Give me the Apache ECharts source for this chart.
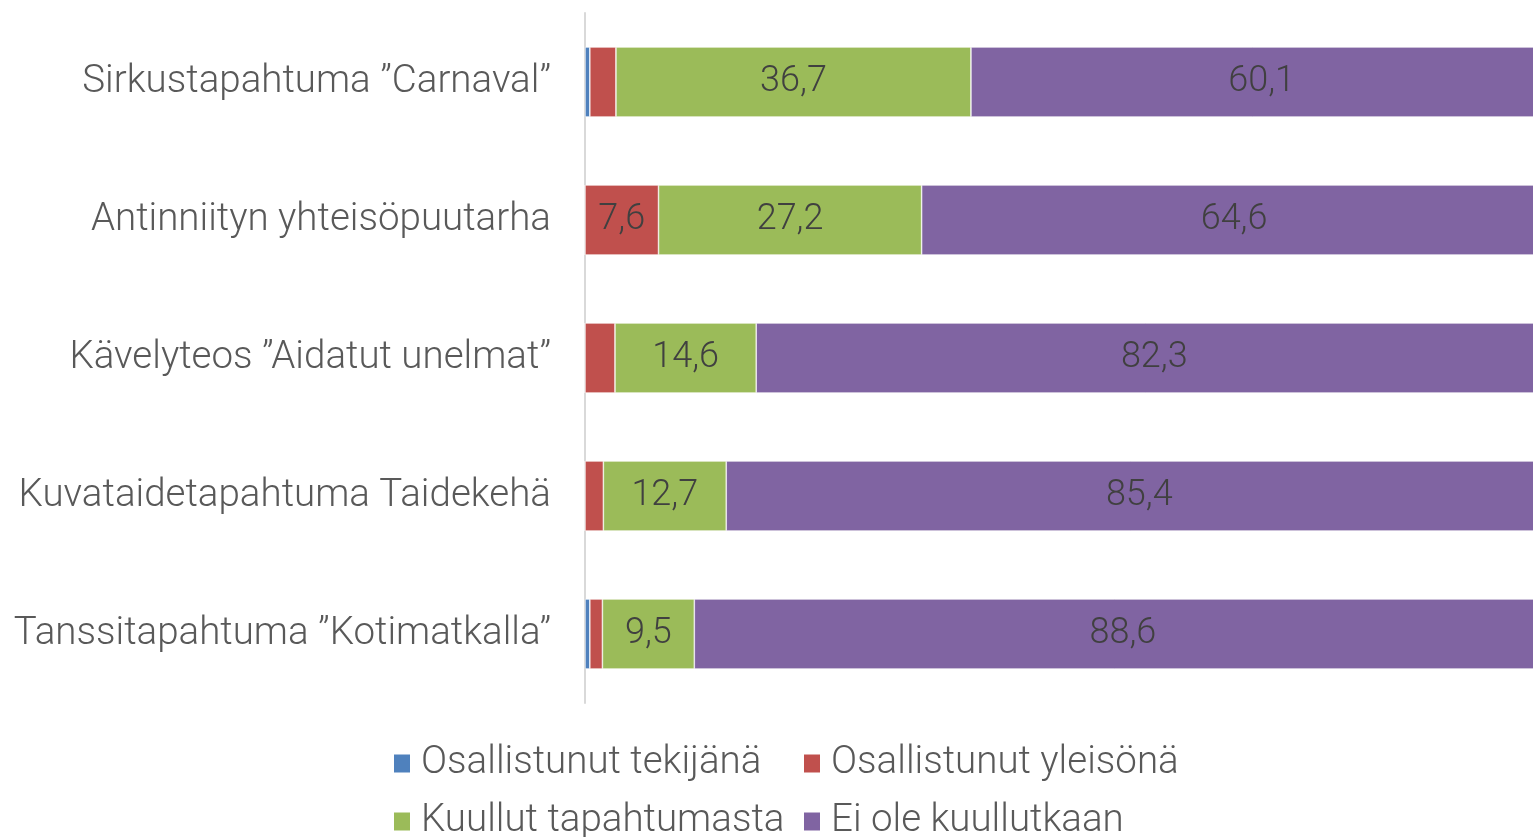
<!DOCTYPE html>
<html>
<head>
<meta charset="utf-8">
<script src="https://cdn.jsdelivr.net/npm/echarts@6/dist/echarts.min.js"></script>
<style>
  html, body { margin: 0; padding: 0; background: #fff; }
  #chart { width: 1533px; height: 837px; }
</style>
</head>
<body>
<div id="chart"></div>
<script>
// 100 % stacked bars: awareness / participation per event (%).
const categories = [
  'Tanssitapahtuma ”Kotimatkalla”',
  'Kuvataidetapahtuma Taidekehä',
  'Kävelyteos ”Aidatut unelmat”',
  'Antinniityn yhteisöpuutarha',
  'Sirkustapahtuma ”Carnaval”',
];
const seriesNames = ['Osallistunut tekijänä', 'Osallistunut yleisönä', 'Kuullut tapahtumasta', 'Ei ole kuullutkaan'];
const tekijana = [0.5, 0, 0, 0, 0.5];
const yleisona = [1.3, 1.9, 3.1, 7.6, 2.7];
const kuullut = [9.5, 12.7, 14.6, 27.2, 36.7];
const eiKuullut = [88.6, 85.4, 82.3, 64.6, 60.1];
// red segment is labelled only where it is wide enough (Antinniityn)
const yleisonaLabel = [false, false, false, true, false];

const COLORS = ['#4F81BD', '#C0504D', '#9BBB59', '#8064A2'];
const FONT = 'Roboto, "Open Sans", sans-serif';

const fmt = (v) => String(v).replace('.', ',');

// the picture is cropped on the right: the 100 % end sits ~19px past the edge,
// so the axis stops at 98 and bars are not clipped.
function barSeries(i, data, showLabel) {
  return {
    name: seriesNames[i], type: 'bar', stack: 'all', barWidth: 70, clip: false,
    itemStyle: { color: COLORS[i], borderColor: '#fff', borderWidth: 0.6 },
    label: {
      show: showLabel, position: 'inside', color: '#404040',
      fontFamily: FONT, fontSize: 36, fontWeight: 300, padding: [6, 0, 0, 0],
      formatter: (p) => fmt(p.value),
    },
    data,
  };
}

const legItem = (name, left, top) => ({
  data: [name], left, top, padding: 0, itemWidth: 18, itemHeight: 20, itemGap: 0,
  icon: 'rect', selectedMode: false,
  textStyle: { color: '#595959', fontFamily: FONT, fontSize: 38.5, fontWeight: 300, padding: [0, 0, 0, 5] },
});

const chart = echarts.init(document.getElementById('chart'), null, { renderer: 'canvas' });
chart.setOption({
  animation: false,
  grid: { left: 585, right: 0, top: 13, height: 690, containLabel: false },
  xAxis: { type: 'value', min: 0, max: 98, show: false },
  yAxis: {
    type: 'category', data: categories,
    axisLine: { lineStyle: { color: '#d9d9d9', width: 2 } },
    axisTick: { show: false },
    axisLabel: {
      color: '#595959', fontFamily: FONT, fontSize: 38.5, fontWeight: 300,
      margin: 34, padding: [6, 0, 0, 0],
    },
  },
  legend: [
    legItem(seriesNames[0], 392, 744),
    legItem(seriesNames[1], 802, 744),
    legItem(seriesNames[2], 392, 802),
    legItem(seriesNames[3], 802, 802),
  ],
  series: [
    barSeries(0, tekijana, false),
    {
      ...barSeries(1, yleisona, false),
      data: yleisona.map((v, j) => ({ value: v, label: { show: yleisonaLabel[j] } })),
    },
    barSeries(2, kuullut, true),
    barSeries(3, eiKuullut, true),
  ],
});
</script>
</body>
</html>
